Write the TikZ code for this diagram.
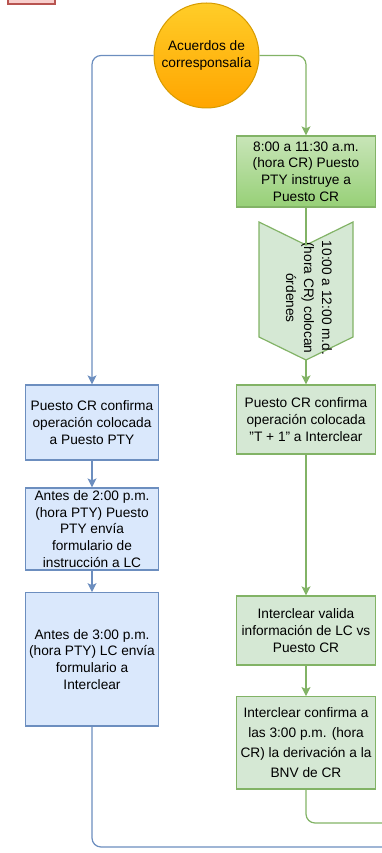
\documentclass[tikz,border=0pt]{standalone}
\usepackage{fontspec}
\setmainfont{Liberation Sans}
\usetikzlibrary{arrows.meta,shapes.geometric}
\definecolor{bluefill}{HTML}{DAE8FC}
\definecolor{bluedraw}{HTML}{6C8EBF}
\definecolor{greenfill}{HTML}{D5E8D4}
\definecolor{greendraw}{HTML}{82B366}
\definecolor{greendark}{HTML}{97D077}
\definecolor{greentop}{HTML}{C8E5B8}
\definecolor{orangetop}{HTML}{FFCD28}
\definecolor{orangebot}{HTML}{FFA500}
\definecolor{orangedraw}{HTML}{D79B00}
\definecolor{redfill}{HTML}{F8CECC}
\definecolor{reddraw}{HTML}{B85450}
\tikzset{
  txt/.style={font=\fontsize{13.7}{16.7}\selectfont, align=center, inner sep=0pt},
  bluebox/.style={txt, draw=bluedraw, fill=bluefill, line width=1.2pt, rectangle, minimum width=132.6pt},
  greenbox/.style={txt, draw=greendraw, fill=greenfill, line width=1.2pt, rectangle, minimum width=139.5pt},
  blueline/.style={draw=bluedraw, line width=1.2pt, rounded corners=9pt},
  greenline/.style={draw=greendraw, line width=1.2pt, rounded corners=9pt},
  arr/.style={-{Stealth[length=9pt,width=9pt,inset=2pt]}},
}
\begin{document}
\begin{tikzpicture}[x=1pt,y=-1pt]
\useasboundingbox (0,0) rectangle (382,853);
\begin{scope}
\clip (0,0) rectangle (382,853);
\draw[draw=reddraw, fill=redfill, line width=1.2pt] (8,-6) rectangle (55,4);
\end{scope}

% nodes
\node[txt, circle, draw=orangedraw, line width=1pt, top color=orangetop, bottom color=orangebot, minimum size=105pt] (c) at (206.5,55.5) {Acuerdos de\\corresponsalía};

\node[greenbox, draw=greendraw, top color=greentop, bottom color=greendark, minimum height=71pt] (g1) at (306,171.5) {8:00 a 11:30 a.m.\\(hora CR) Puesto\\PTY instruye a\\Puesto CR};

\draw[draw=greendraw, fill=greenfill, line width=1.2pt] (259,222) -- (306,245) -- (353,222) -- (353,337) -- (306,360) -- (259,337) -- cycle;
\coordinate (chtop) at (306,245);
\coordinate (chbot) at (306,360);
\node[txt, font=\fontsize{13.7}{18}\selectfont, rotate=-90] (chtxt) at (309,298) {10:00 a 12:00 m.d.\\(hora CR) colocan\\órdenes};

\node[greenbox, minimum height=69pt] (g2) at (306,419.5) {Puesto CR confirma\\operación colocada\\\symbol{34}T + 1\symbol{34} a Interclear};
\node[greenbox, minimum height=69pt] (g3) at (306,630.5) {Interclear valida\\información de LC vs\\Puesto CR};
\node[greenbox, font=\fontsize{13.7}{20}\selectfont, minimum height=92.3pt] (g4) at (306,742.8) {Interclear confirma a\\las 3:00 p.m. (hora\\CR) la derivación a la\\BNV de CR};

\node[bluebox, minimum height=75pt] (b1) at (92,422.5) {Puesto CR confirma\\operación colocada\\a Puesto PTY};
\node[bluebox, minimum height=82pt] (b2) at (92,529) {Antes de 2:00 p.m.\\(hora PTY) Puesto\\PTY envía\\formulario de\\instrucción a LC};
\node[bluebox, minimum height=133.3pt] (b3) at (92,659.4) {Antes de 3:00 p.m.\\(hora PTY) LC envía\\formulario a\\Interclear};

\coordinate (endg) at (382,823);
\coordinate (endb) at (382,847);

% connectors
\draw[blueline, arr] (c.west) -| (b1.north);
\draw[blueline, arr] (b1.south) -- (b2.north);
\draw[blueline, arr] (b2.south) -- (b3.north);
\draw[blueline] (b3.south) |- (endb);

\draw[greenline, arr] (c.east) -| (g1.north);
\draw[greenline] (g1.south) -- (chtop);
\draw[greenline, arr] (chbot) -- (g2.north);
\draw[greenline, arr] (g2.south) -- (g3.north);
\draw[greenline, arr] (g3.south) -- (g4.north);
\draw[greenline] (g4.south) |- (endg);
\end{tikzpicture}
\end{document}
